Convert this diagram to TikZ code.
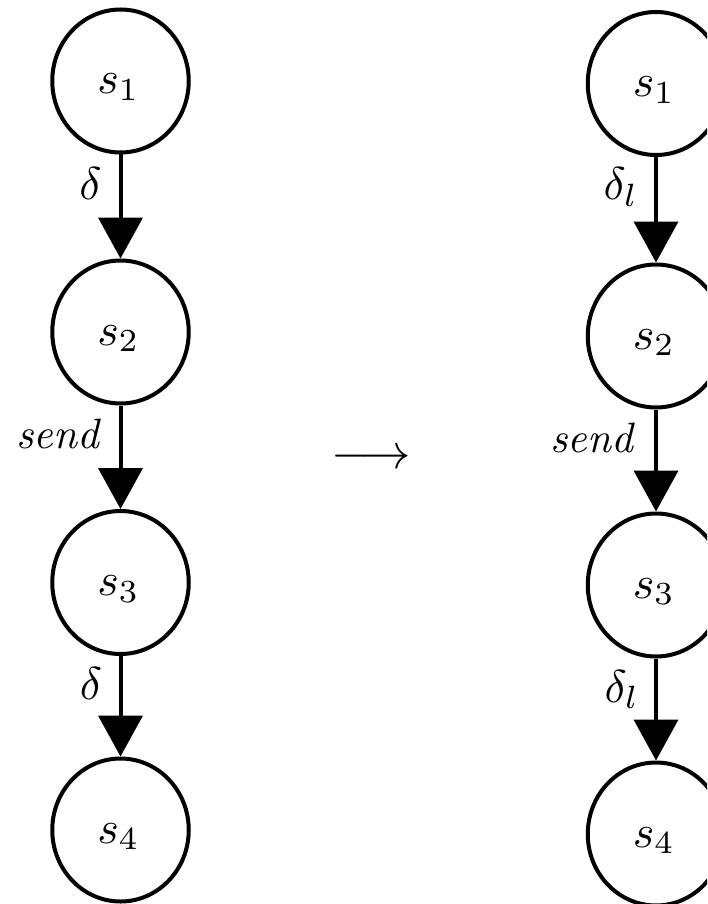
\documentclass[tikz,border=0pt]{standalone}
\usetikzlibrary{arrows.meta,shapes.geometric}

% labels are set at 10pt and magnified
\newcommand{\magtxt}[1]{\scalebox{4.6}{#1}}
\newcommand{\magword}[1]{\scalebox{4.25}{#1}}

\tikzset{
  x=1pt, y=-1pt,
  statebox/.style={draw, ellipse, line width=4pt, minimum width=136.5pt,
    minimum height=143pt, inner sep=0pt},
  statetext/.style={anchor=base, inner sep=0pt},
  edgetext/.style={anchor=base, inner sep=0pt},
  trans/.style={line width=4pt, -{Triangle[length=41pt,width=44pt]}},
}

\begin{document}
\begin{tikzpicture}
\useasboundingbox (0,0) rectangle (707,904);
\clip (0,0) rectangle (707,904);

% left chain
\node[statebox] (a1) at (120.5,81) {};
\node[statebox] (a2) at (120.5,332) {};
\node[statebox] (a3) at (120.5,582.5) {};
\node[statebox] (a4) at (120.5,830) {};
\node[statetext] (ta1) at (118.5,94) {\magtxt{$s_1$}};
\node[statetext] (ta2) at (118.5,345) {\magtxt{$s_2$}};
\node[statetext] (ta3) at (118.5,595.5) {\magtxt{$s_3$}};
\node[statetext] (ta4) at (118.5,843) {\magtxt{$s_4$}};

\draw[trans] (a1) -- (a2);
\draw[trans] (a2) -- (a3);
\draw[trans] (a3) -- (a4);
\node[edgetext] (la1) at (90.5,200) {\magtxt{$\delta$}};
\node[edgetext] (la2) at (57.5,448) {\magword{\itshape send}};
\node[edgetext] (la3) at (91,699) {\magtxt{$\delta$}};

% transformation arrow
\node[inner sep=0pt] (tr) at (371.5,459) {\scalebox{4.95}{$\longrightarrow$}};

% right chain
\node[statebox] (b1) at (656,83.5) {};
\node[statebox] (b2) at (656,336) {};
\node[statebox] (b3) at (656,585) {};
\node[statebox] (b4) at (656,834) {};
\node[statetext] (tb1) at (654,96.5) {\magtxt{$s_1$}};
\node[statetext] (tb2) at (654,349) {\magtxt{$s_2$}};
\node[statetext] (tb3) at (654,598) {\magtxt{$s_3$}};
\node[statetext] (tb4) at (654,847) {\magtxt{$s_4$}};

\draw[trans] (b1) -- (b2);
\draw[trans] (b2) -- (b3);
\draw[trans] (b3) -- (b4);
\node[edgetext] (lb1) at (621,200) {\magtxt{$\delta_l$}};
\node[edgetext] (lb2) at (591.5,452) {\magword{\itshape send}};
\node[edgetext] (lb3) at (622,702) {\magtxt{$\delta_l$}};
\end{tikzpicture}
\end{document}
